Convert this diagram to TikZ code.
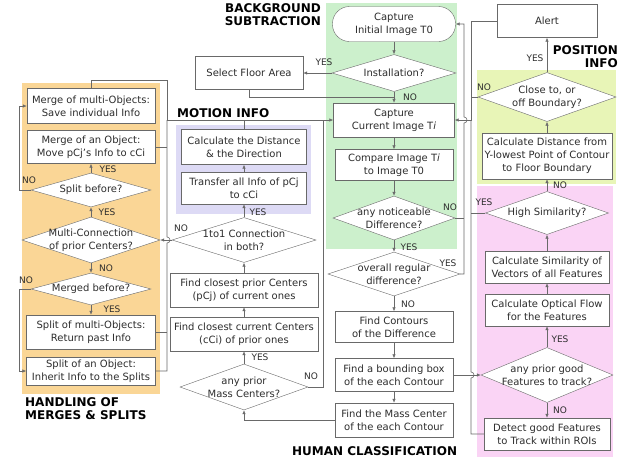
\documentclass[tikz,border=0pt]{standalone}
\usepackage{fontspec}
\setmainfont{DejaVu Sans}
\usetikzlibrary{shapes.geometric, arrows.meta}

\definecolor{mergecol}{RGB}{250,214,150}
\definecolor{motioncol}{RGB}{221,218,245}
\definecolor{bgcol}{RGB}{204,240,204}
\definecolor{poscol}{RGB}{232,245,183}
\definecolor{humancol}{RGB}{250,212,245}
\definecolor{linecol}{RGB}{105,105,105}
\definecolor{txtcol}{RGB}{45,45,45}

\tikzset{
  box/.style={draw=linecol, fill=white, text=txtcol, align=center, inner sep=0pt,
    font=\fontsize{10}{13}\selectfont},
  decision/.style={diamond, draw=linecol, fill=white, inner sep=0pt},
  dtext/.style={text=txtcol, align=center, inner sep=0pt, font=\fontsize{10}{13}\selectfont},
  yesno/.style={text=txtcol, inner sep=0pt, font=\fontsize{9}{10}\selectfont},
  title/.style={inner sep=0pt, font=\fontsize{12}{13}\selectfont\bfseries},
  flow/.style={draw=linecol, line width=0.6pt},
  arr/.style={flow, -{Latex[length=4pt,width=3.5pt]}}
}

\begin{document}
\begin{tikzpicture}[x=1pt, y=-1pt]
\useasboundingbox (0,0) rectangle (618,461);

% coloured areas
\fill[mergecol] (22,83) rectangle (160,394);
\fill[motioncol] (176,125) rectangle (311,214);
\fill[bgcol] (326,3) rectangle (457,249);
\fill[poscol] (477,70) rectangle (616,184);
\fill[humancol] (477,186) rectangle (613,457);

\node[title, anchor=north east, align=right] at (321,3) {BACKGROUND\\SUBTRACTION};
\node[title, anchor=west] at (177,113) {MOTION INFO};
\node[title, anchor=north west, align=left] at (25,397) {HANDLING OF\\MERGES \& SPLITS};
\node[title, anchor=north east, align=right] at (618,45) {POSITION\\INFO};
\node[title, anchor=west] at (292,451) {HUMAN CLASSIFICATION};

% background subtraction
\node[box, rounded corners=17pt, minimum width=123pt, minimum height=35pt] (init) at (394,24) {Capture\\Initial Image T0};
\node[decision, minimum width=124pt, minimum height=37pt] (inst) at (394,73) {};
\node[dtext] at (inst) {Installation?};
\node[box, minimum width=108pt, minimum height=33pt] (floor) at (249,73) {Select Floor Area};
\node[box, minimum width=121pt, minimum height=34pt] (cur) at (394,120) {Capture\\Current Image T\textit{i}};
\node[box, minimum width=118pt, minimum height=31pt] (cmp) at (394,165) {Compare Image T\textit{i}\\to Image T0};
\node[decision, minimum width=122pt, minimum height=44pt] (notic) at (394,218) {};
\node[dtext] at (notic) {any noticeable\\Difference?};
\node[decision, minimum width=132pt, minimum height=44pt] (regul) at (394,274) {};
\node[dtext] at (regul) {overall regular\\difference?};
\node[box, minimum width=118pt, minimum height=31pt] (cont) at (394,327) {Find Contours\\of the Difference};
\node[box, minimum width=118pt, minimum height=33pt] (bbox) at (394,375) {Find a bounding box\\of the each Contour};
\node[box, minimum width=118pt, minimum height=34pt] (mass) at (394,420) {Find the Mass Center\\of the each Contour};

% motion info
\node[box, minimum width=125pt, minimum height=35pt] (dist) at (244,147) {Calculate the Distance\\\& the Direction};
\node[box, minimum width=125pt, minimum height=32pt] (trans) at (244,188) {Transfer all Info of pCj\\to cCi};
\node[decision, minimum width=144pt, minimum height=45pt] (onetoone) at (244,240) {};
\node[dtext] at (onetoone) {1to1 Connection\\in both?};
\node[box, minimum width=148pt, minimum height=34pt] (fprior) at (244,290) {Find closest prior Centers\\(pCj) of current ones};
\node[box, minimum width=148pt, minimum height=34pt] (fcur) at (244,334) {Find closest current Centers\\(cCi) of prior ones};
\node[decision, minimum width=128pt, minimum height=46pt] (anyprior) at (244,387) {};
\node[dtext] at (anyprior) {any prior\\Mass Centers?};

% merges and splits
\node[box, minimum width=128pt, minimum height=35pt] (mmulti) at (91,106) {Merge of multi-Objects:\\Save individual Info};
\node[box, minimum width=128pt, minimum height=33pt] (mone) at (91,147) {Merge of an Object:\\Move pCj's Info to cCi};
\node[decision, minimum width=120pt, minimum height=34pt] (splitb) at (91,190) {};
\node[dtext] at (splitb) {Split before?};
\node[decision, minimum width=138pt, minimum height=46pt] (multic) at (91,240) {};
\node[dtext] at (multic) {Multi-Connection\\of prior Centers?};
\node[decision, minimum width=120pt, minimum height=32pt] (mergedb) at (91,289) {};
\node[dtext] at (mergedb) {Merged before?};
\node[box, minimum width=129pt, minimum height=34pt] (smulti) at (91,332) {Split of multi-Objects:\\Return past Info};
\node[box, minimum width=129pt, minimum height=28pt] (sone) at (91,371) {Split of an Object:\\Inherit Info to the Splits};

% position info and features
\node[box, minimum width=100pt, minimum height=33pt] (alert) at (547,21) {Alert};
\node[decision, minimum width=138pt, minimum height=49pt] (close) at (547,97) {};
\node[dtext] at (close) {Close to, or\\off Boundary?};
\node[box, minimum width=130pt, minimum height=46pt] (cdist) at (547,156) {Calculate Distance from\\Y-lowest Point of Contour\\to Floor Boundary};
\node[decision, minimum width=123pt, minimum height=43pt] (highsim) at (547,213) {};
\node[dtext] at (highsim) {High Similarity?};
\node[box, minimum width=124pt, minimum height=32pt] (simil) at (547,267) {Calculate Similarity of\\Vectors of all Features};
\node[box, minimum width=124pt, minimum height=32pt] (optflow) at (547,310) {Calculate Optical Flow\\for the Features};
\node[decision, minimum width=132pt, minimum height=55pt] (goodf) at (547,375) {};
\node[dtext] at (goodf) {any prior good\\Features to track?};
\node[box, minimum width=126pt, minimum height=32pt] (detect) at (547,434) {Detect good Features\\to Track within ROIs};

% junctions
\coordinate (fj) at (394,97);
\coordinate (abus) at (464,120);
\coordinate (rbus) at (471,120);
\coordinate (lbus) at (167,120);
\coordinate (nj) at (323,120);

% background subtraction flow
\draw[arr] (init) -- (inst);
\draw[arr] (inst) -- (cur);
\draw[arr] (inst.west) -- (floor.east);
\draw[flow] (floor.south) |- (fj);
\draw[arr] (cur) -- (cmp);
\draw[arr] (cmp) -- (notic);
\draw[arr] (notic) -- (regul);
\draw[arr] (regul) -- (cont);
\draw[arr] (cont) -- (bbox);
\draw[arr] (bbox) -- (mass);
\draw[arr] (regul.east) -| ([yshift=-3pt]abus) arc[start angle=-90, end angle=90, radius=3pt] |- (init.east);
\draw[flow] (notic.east) -- (notic.east -| abus);

% back to current image
\draw[arr] (alert.west) -| (rbus) -- (cur.east);
\draw[flow] (rbus) -- ([yshift=3pt]rbus |- goodf.west) arc[start angle=90, end angle=-90, radius=3pt] |- (detect.west);
\draw[flow] (close.west) -- (close.west -| rbus);
\draw[flow] (highsim.west) -- (highsim.west -| rbus);
\draw[arr] (bbox.east) -- (goodf.west);

% features and position
\draw[arr] (goodf) -- (optflow);
\draw[arr] (goodf) -- (detect);
\draw[arr] (optflow) -- (simil);
\draw[arr] (simil) -- (highsim);
\draw[arr] (highsim) -- (cdist);
\draw[arr] (cdist) -- (close);
\draw[arr] (close) -- (alert);

% motion info flow
\draw[arr] (mass.west) -| (anyprior.south);
\draw[arr] (anyprior) -- (fcur);
\draw[arr] (fcur) -- (fprior);
\draw[arr] (fprior) -- (onetoone);
\draw[arr] (onetoone) -- (trans);
\draw[arr] (trans) -- (dist);
\draw[flow] (dist.north) -- (dist.north |- lbus);
\draw[flow] (anyprior.east) -| (nj);
\draw[arr] (onetoone.west) -- (multic.east);

% merges and splits flow
\draw[arr] (mmulti.north) -- ++(0,-8) -| (lbus) -- (cur.west);
\draw[flow] (lbus) -- ([yshift=3pt]lbus |- onetoone.west) arc[start angle=90, end angle=-90, radius=3pt] |- (sone.east);
\draw[flow] (mone.east) -- (mone.east -| lbus);
\draw[flow] (smulti.east) -- (smulti.east -| lbus);
\draw[arr] (multic) -- (splitb);
\draw[arr] (splitb) -- (mone);
\draw[arr] (multic) -- (mergedb);
\draw[arr] (mergedb) -- (smulti);
\draw[arr] (splitb.west) -- ++(-12,0) |- (mmulti.west);
\draw[arr] (mergedb.west) -- ++(-12,0) |- (sone.west);

% yes / no
\node[yesno] at (324,62) {YES};
\node[yesno] at (410,97) {NO};
\node[yesno] at (450,207) {NO};
\node[yesno] at (409,247) {YES};
\node[yesno] at (448,263) {YES};
\node[yesno] at (408,304) {NO};
\node[yesno] at (258,212) {YES};
\node[yesno] at (181,228) {NO};
\node[yesno] at (260,357) {YES};
\node[yesno] at (311,376) {NO};
\node[yesno] at (108,169) {YES};
\node[yesno] at (29,180) {NO};
\node[yesno] at (107,212) {YES};
\node[yesno] at (106,268) {NO};
\node[yesno] at (26,280) {NO};
\node[yesno] at (112,309) {YES};
\node[yesno] at (535,58) {YES};
\node[yesno] at (484,87) {NO};
\node[yesno] at (560,185) {NO};
\node[yesno] at (484,202) {YES};
\node[yesno] at (560,339) {YES};
\node[yesno] at (560,410) {NO};
\end{tikzpicture}
\end{document}
